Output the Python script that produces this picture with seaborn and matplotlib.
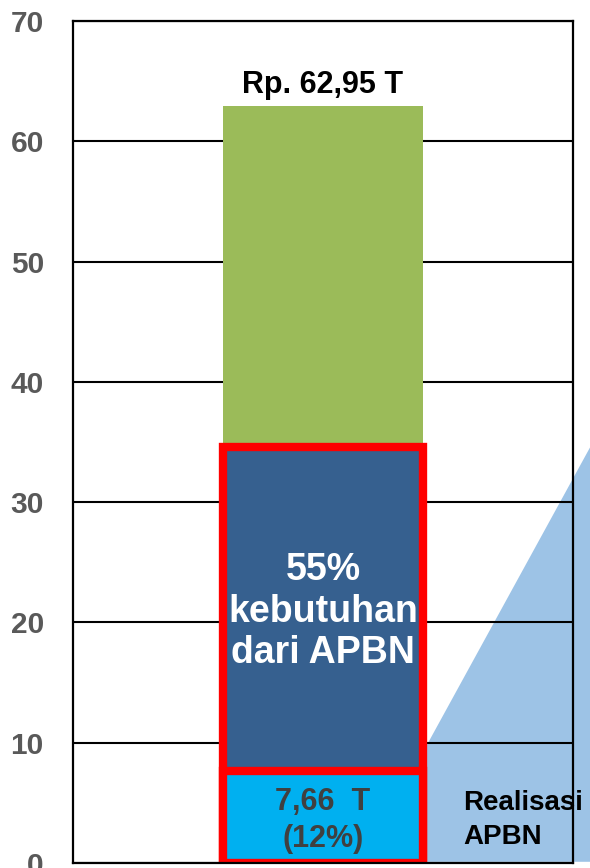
import matplotlib
matplotlib.use("Agg")
import matplotlib.pyplot as plt
import seaborn as sns
from matplotlib.patches import Polygon

# Data
category = ["Kebutuhan"]
total_need = [62.95]          # Rp. triliun
apbn_share = [34.62]          # 55% of total, from APBN
realisasi = [7.66]            # realised APBN (12%)

top_label = "Rp. 62,95 T"
apbn_label = "55%\nkebutuhan\ndari APBN"
real_label = "7,66  T\n(12%)"
side_label = "Realisasi\nAPBN"

sns.set_style("white")
plt.rcParams["font.family"] = ["Liberation Sans", "DejaVu Sans"]

fig = plt.figure(figsize=(5.9, 8.68), dpi=100)
ax = fig.add_axes([73 / 590, 5 / 868, 500 / 590, 842 / 868])

# callout wedge behind the grid
wedge = Polygon([(0.41, 0.1), (0.41, 9.6), (1.08, 35.0), (1.08, 0.1)],
                closed=True, facecolor="#9DC3E6", edgecolor="none",
                zorder=0.3, clip_on=False)
ax.add_patch(wedge)

sns.barplot(x=category, y=total_need, color="#9BBB59", width=0.8,
            saturation=1, linewidth=0, ax=ax, zorder=2)
sns.barplot(x=category, y=apbn_share, color="#36608F", width=0.8,
            saturation=1, edgecolor="#FF0000", linewidth=6, ax=ax, zorder=3)
sns.barplot(x=category, y=realisasi, color="#00B0F0", width=0.8,
            saturation=1, edgecolor="#FF0000", linewidth=6, ax=ax, zorder=4)

ax.set_xlim(-1, 1)
ax.set_ylim(0, 70)
ax.set_yticks(range(0, 71, 10))
ax.set_axisbelow(True)
ax.yaxis.grid(True, color="black", linewidth=1.5)
ax.xaxis.grid(False)
ax.set_xticks([])
ax.set_xlabel("")
ax.set_ylabel("")
ax.tick_params(axis="y", length=0, pad=21, labelsize=21.5, labelcolor="#595959")
for lbl in ax.get_yticklabels():
    lbl.set_fontweight("bold")
for sp in ax.spines.values():
    sp.set_visible(True)
    sp.set_color("black")
    sp.set_linewidth(1.6)
    sp.set_zorder(5)

ax.text(0, 63.4, top_label, ha="center", va="bottom", fontsize=22,
        fontweight="bold", color="black", zorder=6)
ax.text(0, 20.9, apbn_label, ha="center", va="center", fontsize=27,
        fontweight="bold", color="white", linespacing=1.2, zorder=6)
ax.text(0, 3.5, real_label, ha="center", va="center", fontsize=22,
        fontweight="bold", color="#404040", linespacing=1.3, zorder=6)
ax.text(0.56, 3.55, side_label, ha="left", va="center", fontsize=20,
        fontweight="bold", color="black", linespacing=1.4, zorder=6)

fig.savefig("out.png", dpi=100)
